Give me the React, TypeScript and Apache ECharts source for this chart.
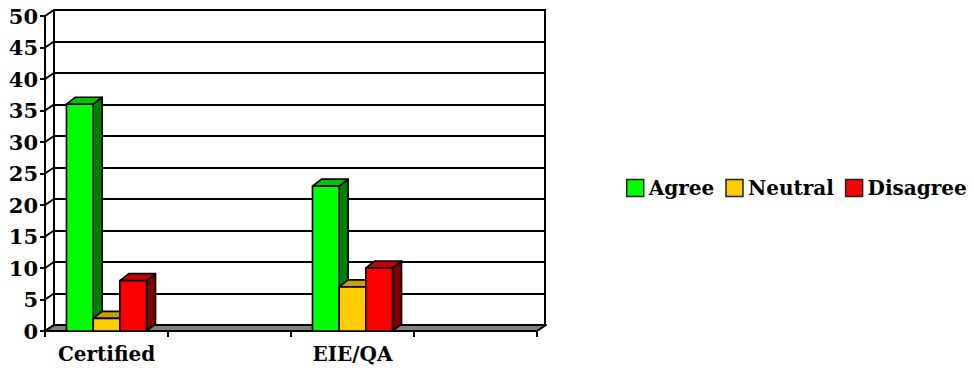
import React, { useEffect, useRef } from "react";
import * as echarts from "echarts";

// Category slots along the floor (every other slot carries a label)
const categories = ["Certified", "", "EIE/QA", ""];
const seriesNames = ["Agree", "Neutral", "Disagree"];
const agreeValues = [36, null, 23, null];
const neutralValues = [2, null, 7, null];
const disagreeValues = [8, null, 10, null];
const yMin = 0;
const yMax = 50;
const yStep = 5;
const yTickValues = [0, 5, 10, 15, 20, 25, 30, 35, 40, 45, 50];

const seriesValues = [agreeValues, neutralValues, disagreeValues];

// front / top / side shading of each 3D bar
const faceColors = [
  { front: "#00FF00", top: "#00C400", side: "#007F00" },
  { front: "#FFCC00", top: "#C9A100", side: "#806600" },
  { front: "#FF0000", top: "#C40000", side: "#7F0000" },
];

const FONT = "DejaVu Serif";
const WALL_DX = 9;
const WALL_DY = -6;
const BAR_DX = 9;
const BAR_DY = -7;
const BAR_FRACTION = 0.217;

export default function App() {
  const ref = useRef<HTMLDivElement>(null);

  useEffect(() => {
    if (!ref.current) return;
    const chart = echarts.init(ref.current, undefined, { renderer: "svg" });

    const barSeries = seriesNames.map((name, s) => ({
      name,
      type: "custom",
      xAxisIndex: 0,
      yAxisIndex: 0,
      z: 5,
      itemStyle: { color: faceColors[s].front },
      data: seriesValues[s]
        .map((v, i) => (v === null ? null : [i, v]))
        .filter((d) => d !== null),
      renderItem: (params: any, api: any) => {
        const idx = api.value(0);
        const val = api.value(1);
        const top = api.coord([idx, val]);
        const base = api.coord([idx, 0]);
        const band = api.size([1, 0])[0];
        const w = band * BAR_FRACTION;
        const x0 = top[0] + (s - 1.5) * w;
        const x1 = x0 + w;
        const yt = top[1];
        const yb = base[1];
        const stroke = { stroke: "#000", lineWidth: 1.6, lineJoin: "round" };
        return {
          type: "group",
          children: [
            {
              type: "polygon",
              shape: {
                points: [
                  [x1, yt],
                  [x1 + BAR_DX, yt + BAR_DY],
                  [x1 + BAR_DX, yb + BAR_DY],
                  [x1, yb],
                ],
              },
              style: { fill: faceColors[s].side, ...stroke },
            },
            {
              type: "polygon",
              shape: {
                points: [
                  [x0, yt],
                  [x0 + BAR_DX, yt + BAR_DY],
                  [x1 + BAR_DX, yt + BAR_DY],
                  [x1, yt],
                ],
              },
              style: { fill: faceColors[s].top, ...stroke },
            },
            {
              type: "rect",
              shape: { x: x0, y: yt, width: w, height: yb - yt },
              style: { fill: faceColors[s].front, ...stroke },
            },
          ],
        };
      },
    }));

    // floor slab and side-wall gridlines
    const floorSeries = {
      name: "floor",
      type: "custom",
      xAxisIndex: 0,
      yAxisIndex: 0,
      z: 3,
      silent: true,
      data: yTickValues.map((v) => [0, v]),
      renderItem: (params: any, api: any) => {
        const cs = params.coordSys;
        const v = api.value(1);
        const y = api.coord([0, v])[1];
        const left = cs.x;
        const right = cs.x + cs.width;
        const children: any[] = [
          {
            type: "line",
            shape: { x1: left, y1: y, x2: left + WALL_DX, y2: y + WALL_DY },
            style: { stroke: "#000", lineWidth: 2 },
          },
        ];
        if (v === 0) {
          children.unshift({
            type: "polygon",
            shape: {
              points: [
                [left, y],
                [right, y],
                [right + WALL_DX, y + WALL_DY],
                [left + WALL_DX, y + WALL_DY],
              ],
            },
            style: { fill: "#808080", stroke: "#000", lineWidth: 2, lineJoin: "round" },
          });
        }
        return { type: "group", children };
      },
    };

    chart.setOption({
      animation: false,
      backgroundColor: "#fff",
      legend: {
        data: seriesNames.map((n) => ({ name: n, icon: "rect" })),
        left: 621,
        top: 173,
        itemWidth: 17,
        itemHeight: 17,
        itemGap: 11,
        selectedMode: false,
        itemStyle: { borderColor: "#222", borderWidth: 1.5 },
        textStyle: {
          fontFamily: FONT,
          fontWeight: "bold",
          fontSize: 20,
          color: "#000",
          padding: [0, 0, 0, 0],
        },
      },
      grid: [
        { left: 45, top: 16, right: 437, bottom: 39, show: false },
        {
          left: 54,
          top: 10,
          right: 429,
          bottom: 45,
          show: true,
          borderColor: "#000",
          borderWidth: 2,
          backgroundColor: "transparent",
        },
      ],
      xAxis: [
        {
          type: "category",
          gridIndex: 0,
          data: categories,
          axisLine: { show: true, lineStyle: { color: "#000", width: 2 } },
          axisTick: {
            show: true,
            interval: 0,
            length: 6,
            lineStyle: { color: "#000", width: 2 },
          },
          axisLabel: {
            interval: 0,
            margin: 13,
            color: "#000",
            fontFamily: FONT,
            fontWeight: "bold",
            fontSize: 20,
          },
          splitLine: { show: false },
          z: 4,
        },
        {
          type: "category",
          gridIndex: 1,
          data: categories,
          show: false,
        },
      ],
      yAxis: [
        {
          type: "value",
          gridIndex: 0,
          min: yMin,
          max: yMax,
          interval: yStep,
          axisLine: { show: true, lineStyle: { color: "#000", width: 2 } },
          axisTick: { show: true, length: 5, lineStyle: { color: "#000", width: 2 } },
          axisLabel: {
            margin: 7,
            color: "#000",
            fontFamily: FONT,
            fontWeight: "bold",
            fontSize: 21,
          },
          splitLine: { show: false },
          z: 4,
        },
        {
          type: "value",
          gridIndex: 1,
          min: yMin,
          max: yMax,
          interval: yStep,
          axisLine: { show: false },
          axisTick: { show: false },
          axisLabel: { show: false },
          splitLine: { show: true, lineStyle: { color: "#000", width: 2 } },
        },
      ],
      series: [floorSeries, ...barSeries],
    });

    return () => chart.dispose();
  }, []);

  return (
    <div
      ref={ref}
      style={{ position: "fixed", left: 0, top: 0, width: 974, height: 370 }}
    />
  );
}
